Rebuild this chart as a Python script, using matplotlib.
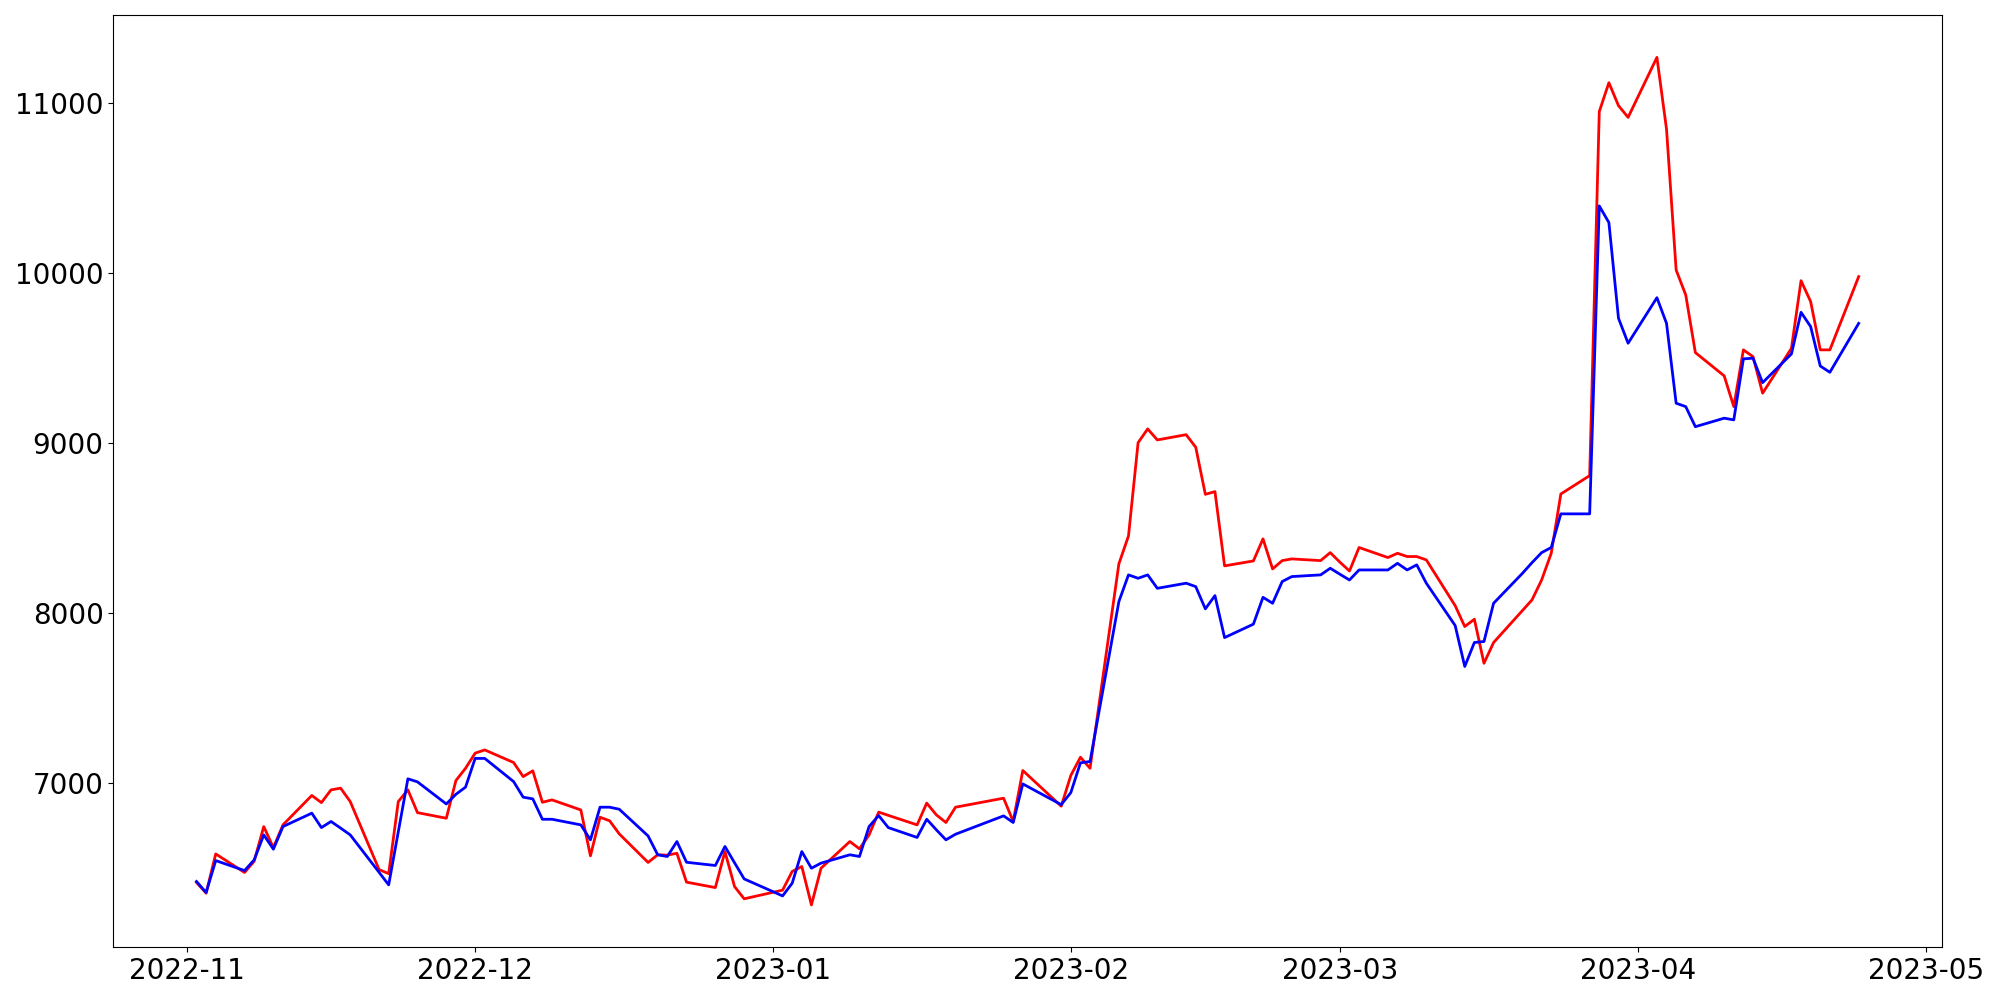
import matplotlib
matplotlib.use("Agg")
import matplotlib.pyplot as plt
import pandas as pd

dates = [
    "2022-11-02", "2022-11-03", "2022-11-04", "2022-11-07", "2022-11-08", "2022-11-09",
    "2022-11-10", "2022-11-11", "2022-11-14", "2022-11-15", "2022-11-16", "2022-11-17",
    "2022-11-18", "2022-11-21", "2022-11-22", "2022-11-23", "2022-11-24", "2022-11-25",
    "2022-11-28", "2022-11-29", "2022-11-30", "2022-12-01", "2022-12-02", "2022-12-05",
    "2022-12-06", "2022-12-07", "2022-12-08", "2022-12-09", "2022-12-12", "2022-12-13",
    "2022-12-14", "2022-12-15", "2022-12-16", "2022-12-19", "2022-12-20", "2022-12-21",
    "2022-12-22", "2022-12-23", "2022-12-26", "2022-12-27", "2022-12-28", "2022-12-29",
    "2023-01-02", "2023-01-03", "2023-01-04", "2023-01-05", "2023-01-06", "2023-01-09",
    "2023-01-10", "2023-01-11", "2023-01-12", "2023-01-13", "2023-01-16", "2023-01-17",
    "2023-01-18", "2023-01-19", "2023-01-20", "2023-01-25", "2023-01-26", "2023-01-27",
    "2023-01-31", "2023-02-01", "2023-02-02", "2023-02-03", "2023-02-06", "2023-02-07",
    "2023-02-08", "2023-02-09", "2023-02-10", "2023-02-13", "2023-02-14", "2023-02-15",
    "2023-02-16", "2023-02-17", "2023-02-20", "2023-02-21", "2023-02-22", "2023-02-23",
    "2023-02-24", "2023-02-27", "2023-02-28", "2023-03-01", "2023-03-02", "2023-03-03",
    "2023-03-06", "2023-03-07", "2023-03-08", "2023-03-09", "2023-03-10", "2023-03-13",
    "2023-03-14", "2023-03-15", "2023-03-16", "2023-03-17", "2023-03-20", "2023-03-21",
    "2023-03-22", "2023-03-23", "2023-03-24", "2023-03-27", "2023-03-28", "2023-03-29",
    "2023-03-30", "2023-03-31", "2023-04-03", "2023-04-04", "2023-04-05", "2023-04-06",
    "2023-04-07", "2023-04-10", "2023-04-11", "2023-04-12", "2023-04-13", "2023-04-14",
    "2023-04-17", "2023-04-18", "2023-04-19", "2023-04-20", "2023-04-21", "2023-04-24",
]

red_values = [
    6415, 6352, 6583, 6474, 6540, 6744,
    6620, 6754, 6927, 6885, 6960, 6970,
    6891, 6491, 6467, 6891, 6960, 6826,
    6793, 7015, 7087, 7176, 7195, 7121,
    7038, 7072, 6887, 6901, 6842, 6572,
    6799, 6778, 6701, 6533, 6578, 6576,
    6587, 6417, 6385, 6597, 6391, 6319,
    6370, 6480, 6509, 6283, 6499, 6656,
    6613, 6695, 6829, 6810, 6754, 6882,
    6813, 6768, 6858, 6911, 6774, 7074,
    6864, 7045, 7152, 7087, 8290, 8454,
    9003, 9084, 9019, 9050, 8976, 8699,
    8715, 8278, 8307, 8437, 8260, 8309,
    8319, 8309, 8356, 8300, 8248, 8386,
    8327, 8352, 8333, 8333, 8313, 8044,
    7921, 7964, 7705, 7827, 8015, 8078,
    8195, 8352, 8701, 8809, 10951, 11121,
    10986, 10917, 11270, 10847, 10019, 9872,
    9533, 9396, 9215, 9549, 9509, 9294,
    9558, 9956, 9833, 9549, 9549, 9980,
]

blue_values = [
    6421, 6356, 6544, 6485, 6548, 6695,
    6611, 6744, 6823, 6738, 6774, 6735,
    6695, 6475, 6401, 6713, 7025, 7007,
    6877, 6934, 6976, 7145, 7145, 7009,
    6917, 6907, 6787, 6787, 6754, 6666,
    6858, 6858, 6846, 6689, 6578, 6568,
    6656, 6534, 6515, 6627, 6531, 6436,
    6336, 6411, 6597, 6499, 6529, 6578,
    6568, 6744, 6809, 6738, 6680, 6787,
    6725, 6666, 6699, 6807, 6768, 6995,
    6873, 6944, 7119, 7127, 8068, 8225,
    8205, 8225, 8146, 8176, 8156, 8025,
    8103, 7856, 7935, 8093, 8058, 8186,
    8215, 8225, 8264, 8229, 8195, 8254,
    8254, 8293, 8254, 8284, 8176, 7927,
    7686, 7827, 7833, 8058, 8234, 8297,
    8356, 8386, 8584, 8584, 10396, 10298,
    9735, 9588, 9856, 9705, 9235, 9215,
    9097, 9147, 9137, 9496, 9500, 9356,
    9525, 9770, 9686, 9454, 9417, 9705,
]

x = pd.to_datetime(dates)

fig = plt.figure(figsize=(20, 10), dpi=100)
ax = fig.add_axes([0.0567, 0.0527, 0.9709 - 0.0567, 0.985 - 0.0527])
ax.plot(x, red_values, color="red", linewidth=2)
ax.plot(x, blue_values, color="blue", linewidth=2)
ax.tick_params(axis="both", labelsize=20)

fig.savefig("out.png", dpi=100)
